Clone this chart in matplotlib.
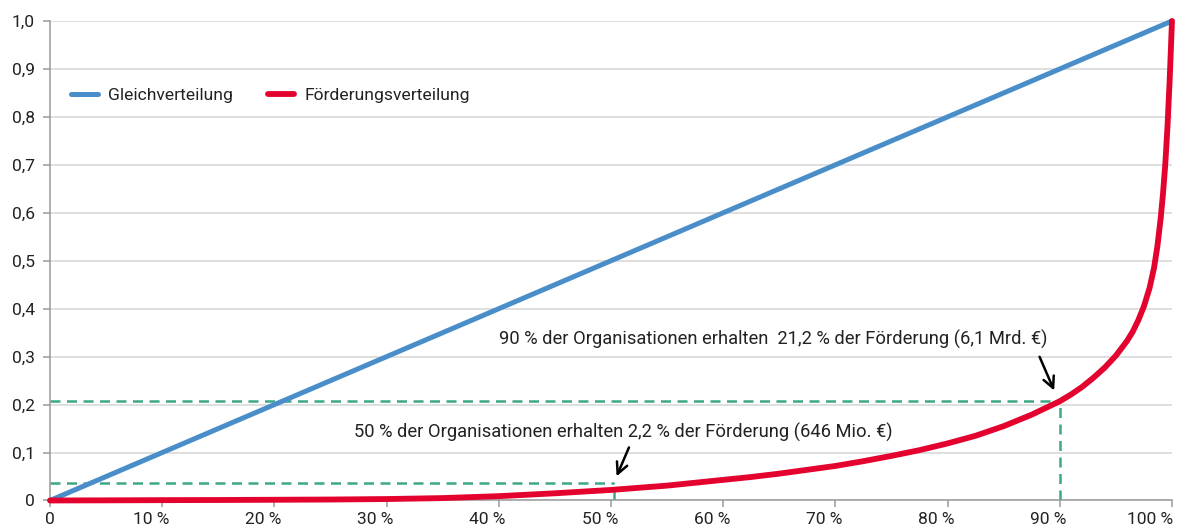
import matplotlib
matplotlib.use("Agg")
import matplotlib.pyplot as plt
from matplotlib.transforms import ScaledTranslation

# share of organisations (%) and cumulative share of funding
anteil_org = [0, 5, 10, 15, 20, 25, 30, 35, 40, 45, 50, 55, 60, 62.5, 65, 67.5, 70,
              72.5, 75, 77.5, 80, 82.5, 85, 87.5, 90, 91, 92, 93, 94, 95, 96, 96.5,
              97, 97.5, 98, 98.4, 98.7, 99, 99.2, 99.4, 99.6, 99.8, 99.9, 100]
foerderung = [0, 0.0003, 0.0007, 0.001, 0.0015, 0.002, 0.003, 0.005, 0.009, 0.015,
              0.022, 0.031, 0.043, 0.049, 0.056, 0.064, 0.072,
              0.082, 0.093, 0.105, 0.119, 0.135, 0.155, 0.179, 0.207, 0.221, 0.237,
              0.256, 0.277, 0.302, 0.333, 0.352,
              0.376, 0.405, 0.443, 0.485, 0.53, 0.59, 0.64, 0.70, 0.78, 0.88, 0.94, 1.0]

gleich_x = [0, 100]
gleich_y = [0, 1.0]

# markers for the two annotated points
mark_x = [50.3, 90.0]
mark_y = [0.036, 0.207]

xticks = [0, 10, 20, 30, 40, 50, 60, 70, 80, 90, 100]
xlabels = ["0"] + [f"{v} %" for v in xticks[1:]]
yticks = [0, 0.1, 0.2, 0.3, 0.4, 0.5, 0.6, 0.7, 0.8, 0.9, 1.0]
ylabels = ["0"] + [f"{v:.1f}".replace(".", ",") for v in yticks[1:]]

txt90 = "90 % der Organisationen erhalten  21,2 % der Förderung (6,1 Mrd. €)"
txt50 = "50 % der Organisationen erhalten 2,2 % der Förderung (646 Mio. €)"

plt.rcParams['font.family'] = ['Roboto', 'DejaVu Sans']
textcol = "#222222"
gray = "#9a9a9a"

fig = plt.figure(figsize=(11.8, 5.25), dpi=100)
ax = fig.add_axes([0.0424, 0.0467, 0.9508, 0.9133])

ax.set_xlim(0, 100)
ax.set_ylim(0, 1.0)
ax.set_yticks(yticks)
ax.set_yticklabels(ylabels)
ax.set_xticks(xticks)
ax.set_xticklabels(xlabels)
ax.grid(axis="y", color="#d6d6d6", linewidth=1.1)
ax.set_axisbelow(True)
for s in ["top", "right"]:
    ax.spines[s].set_visible(False)
for s in ["left", "bottom"]:
    ax.spines[s].set_color(gray)
    ax.spines[s].set_linewidth(1.1)
ax.tick_params(colors=gray, labelcolor=textcol, labelsize=12.5, length=5, width=1.1)
ax.tick_params(axis="y", pad=6)

# x labels sit to the left of their ticks, like in the original
for i, lab in enumerate(ax.get_xticklabels()):
    if i == 0:
        continue
    lab.set_horizontalalignment("right")
    dx = 1 / 72 if i == len(xticks) - 1 else 5 / 72
    lab.set_transform(lab.get_transform() + ScaledTranslation(dx, 0, fig.dpi_scale_trans))

green = "#3ba886"
dash = (0, (4, 2.6))
ax.plot([0, mark_x[0]], [mark_y[0], mark_y[0]], color=green, lw=1.8, ls=dash, zorder=2)
ax.plot([mark_x[0], mark_x[0]], [0, mark_y[0]], color=green, lw=1.8, ls=dash, zorder=2)
ax.plot([0, mark_x[1]], [mark_y[1], mark_y[1]], color=green, lw=1.8, ls=dash, zorder=2)
ax.plot([mark_x[1], mark_x[1]], [0, mark_y[1]], color=green, lw=1.8, ls=dash, zorder=2)

ax.plot(gleich_x, gleich_y, color="#4a8ec9", lw=3.6, label="Gleichverteilung",
        solid_capstyle="round", zorder=3, clip_on=False)
ax.plot(anteil_org, foerderung, color="#e3032e", lw=4.2, label="Förderungsverteilung",
        solid_capstyle="round", solid_joinstyle="round", zorder=4, clip_on=False)

ax.text(40.05, 0.335, txt90, fontsize=13.2, color=textcol, va="center", ha="left")
ax.text(27.1, 0.141, txt50, fontsize=13.2, color=textcol, va="center", ha="left")

ax.annotate("", xy=(50.4, 0.045), xytext=(51.7, 0.116),
            arrowprops=dict(arrowstyle="->", color="black", lw=1.8, mutation_scale=20))
ax.annotate("", xy=(89.6, 0.224), xytext=(88.1, 0.305),
            arrowprops=dict(arrowstyle="->", color="black", lw=1.8, mutation_scale=20))

leg = ax.legend(loc="upper left", bbox_to_anchor=(0.005, 0.893), ncol=2, frameon=False,
                fontsize=12.6, handlelength=1.5, columnspacing=2.0, handletextpad=0.6)
for t in leg.get_texts():
    t.set_color(textcol)

fig.savefig("out.png", dpi=100)
